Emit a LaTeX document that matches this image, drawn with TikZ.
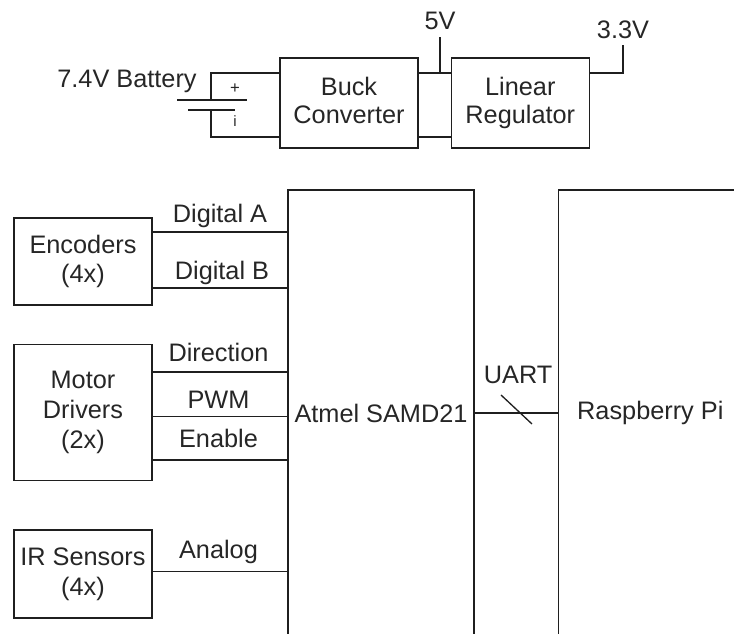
\documentclass[tikz,border=0pt]{standalone}
\usepackage{fontspec}
\setmainfont{Liberation Sans}
\usepackage{xcolor}
\usetikzlibrary{positioning}
\definecolor{inkdark}{gray}{0.12}
\definecolor{textdark}{gray}{0.15}
\tikzset{
  block/.style={draw=inkdark,line width=0.75pt,align=center,minimum width=2.76cm,inner sep=0pt},
  wire/.style={draw=inkdark,line width=0.75pt},
  lbl/.style={text=textdark,inner sep=0pt},
  wirelabel/.style={lbl,above=0.11cm,text height=0.36cm,text depth=0.09cm}
}
\begin{document}
\begin{tikzpicture}[every node/.style={font=\fontsize{14.4}{17}\selectfont,text=textdark}]
\useasboundingbox (0,0) rectangle (14.68,-12.68);
% power section
\node[block,minimum height=1.8cm] (buck) at (6.98,-2.06) {Buck\\[-1.2pt]Converter\vphantom{g}};
\node[block,minimum height=1.8cm,right=0.64cm of buck] (linreg) {Linear\\[-1.2pt]Regulator};
\coordinate (platetop) at (4.22,-2);
\coordinate (platebot) at (4.22,-2.2);
\draw[wire] (3.54,-2)--(4.94,-2);
\draw[wire] (3.76,-2.2)--(4.7,-2.2);
\draw[wire] (platetop)|-([yshift=0.6cm]buck.west);
\draw[wire] (platebot)|-([yshift=-0.68cm]buck.west);
\draw[wire] ([yshift=0.6cm]buck.east)--([yshift=0.6cm]linreg.west);
\draw[wire] ([yshift=-0.68cm]buck.east)--([yshift=-0.68cm]linreg.west);
\node[lbl] (batt) at (2.54,-1.62) {7.4V Battery};
\node[lbl,font=\fontsize{9.5}{11}\selectfont] (plus) at (4.7,-1.78) {+};
\node[lbl,font=\fontsize{8.5}{10}\selectfont] (minus) at (4.7,-2.42) {i};
\node[lbl] (fivev) at (8.8,-0.42) {5V};
\coordinate (fivetap) at (8.8,-1.46);
\draw[wire] (fivetap)--(8.8,-0.74);
\node[lbl] (threev) at (12.46,-0.6) {3.3V};
\draw[wire] ([yshift=0.6cm]linreg.east)-|(12.46,-0.9);
% main boards
\node[block,minimum width=3.72cm,minimum height=8.92cm] (samd) at (7.62,-8.26) {Atmel SAMD21};
\node[block,minimum width=3.68cm,minimum height=8.92cm,right=1.66cm of samd] (rpi) {Raspberry Pi};
\node[block,minimum height=1.74cm] (encoders) at (1.66,-5.23) {Encoders\\(4x)};
\node[block,minimum height=2.72cm,below=0.768cm of encoders,text depth=0.12cm] (motors) {Motor\\Drivers\\(2x)};
\node[block,minimum height=1.76cm,below=0.96cm of motors] (irsens) {IR Sensors\\(4x)};
% signals
\draw[wire] ([yshift=0.59cm]encoders.east)--([yshift=0.59cm]encoders.east-|samd.west) node[midway,wirelabel,above=0.09cm] (diga) {Digital A};
\draw[wire] ([yshift=-0.53cm]encoders.east)--([yshift=-0.53cm]encoders.east-|samd.west) node[midway,wirelabel,above=0.07cm,xshift=0.04cm] (digb) {Digital B};
\draw[wire] ([yshift=0.814cm]motors.east)--([yshift=0.814cm]motors.east-|samd.west) node[midway,wirelabel,xshift=-0.03cm] (dirn) {Direction};
\draw[wire] ([yshift=-0.08cm]motors.east)--([yshift=-0.08cm]motors.east-|samd.west) node[midway,wirelabel,above=0.064cm,xshift=-0.03cm] (pwm) {PWM};
\draw[wire] ([yshift=-0.946cm]motors.east)--([yshift=-0.946cm]motors.east-|samd.west) node[midway,wirelabel,above=0.15cm,xshift=-0.03cm] (enable) {Enable};
\draw[wire] ([yshift=0.05cm]irsens.east)--([yshift=0.05cm]irsens.east-|samd.west) node[midway,wirelabel,above=0.165cm,xshift=-0.03cm] (analog) {Analog};
\draw[wire] (samd)--(rpi) node[midway,wirelabel,above=0.49cm,xshift=0.04cm] (uart) {UART};
\coordinate (slashtop) at (10.02,-7.9);
\coordinate (slashbot) at (10.64,-8.48);
\draw[wire] (slashtop)--(slashbot);
\end{tikzpicture}
\end{document}
